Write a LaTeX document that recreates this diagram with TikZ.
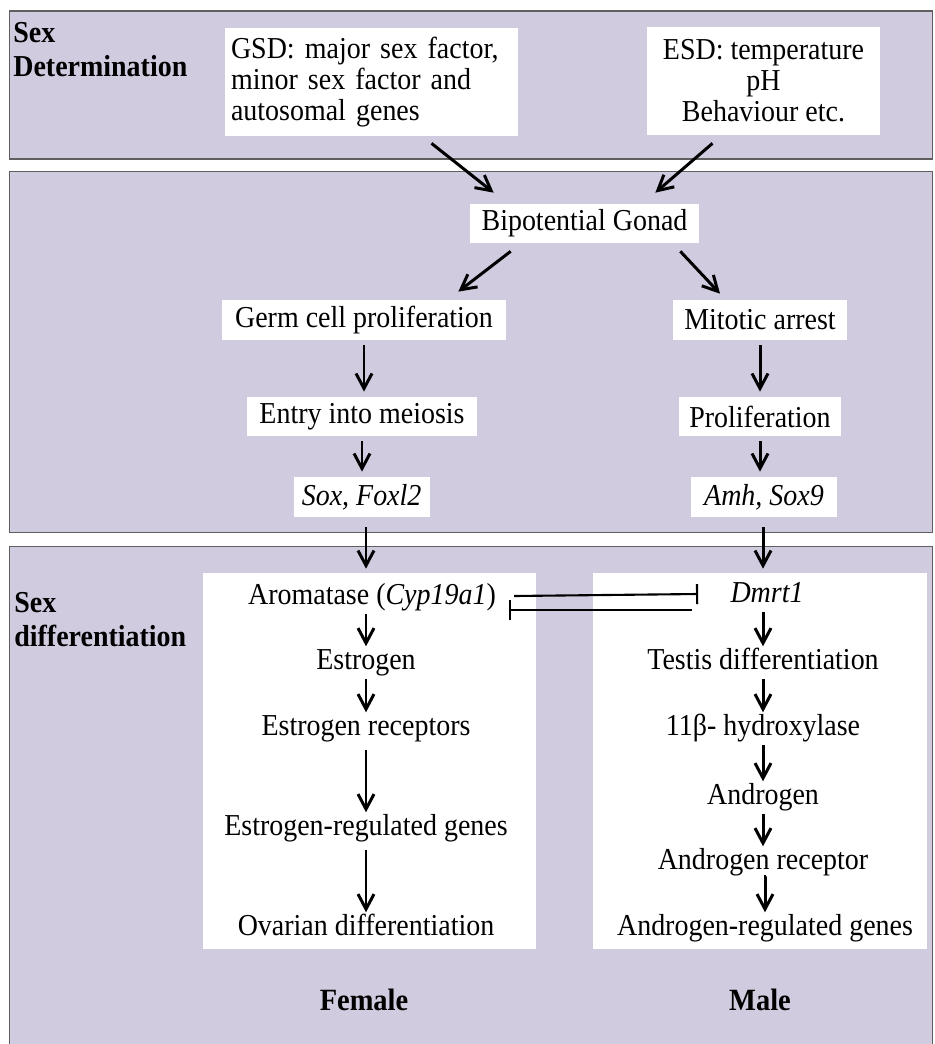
\documentclass[tikz,border=0pt]{standalone}
\usepackage{fontspec}
\setmainfont{Liberation Serif}[FakeStretch=0.92]
\usepackage{tikz}
\usetikzlibrary{arrows.meta, positioning, calc}
\definecolor{lav}{RGB}{209,203,224}
\definecolor{edge}{RGB}{95,95,95}
\frenchspacing

\begin{document}
\begin{tikzpicture}[x=0.02cm, y=-0.02cm,
  font=\fontsize{17.3}{17.6}\selectfont,
  band/.style={rectangle, draw=edge, fill=lav, line width=0.6pt, inner sep=0pt},
  panel/.style={rectangle, fill=white, inner sep=0pt},
  wbox/.style={rectangle, fill=white, inner sep=0pt, align=center},
  txt/.style={inner sep=0pt, text height=12pt, text depth=3.8pt},
  lbl/.style={anchor=west, align=left, inner sep=0pt, font=\bfseries\fontsize{17.3}{19.3}\selectfont},
  sexlbl/.style={txt, font=\bfseries\fontsize{17.6}{17.6}\selectfont},
  arr/.style={-{Straight Barb[length=3mm, width=3.2mm]}, line width=1.7pt},
  varr/.style={arr, shorten <=1mm, shorten >=1mm},
  parr/.style={arr, shorten <=0.5mm, shorten >=0.3mm},
  inh/.style={-{Bar[width=4mm]}, line width=1.2pt},
]
\useasboundingbox (0,0) rectangle (934,1044);

% Bands
\node[band, minimum width=18.48cm, minimum height=2.96cm] (detband) at (471,85) {};
\node[band, minimum width=18.48cm, minimum height=7.24cm] (gonband) at (471,352) {};
\node[band, minimum width=18.48cm, minimum height=10.4cm] (difband) at (471,806) {};
\node[lbl] (detlbl) at (13,50) {Sex\\Determination};
\node[lbl] (diflbl) at (14,620) {Sex\\differentiation};

% Determination
\node[wbox, minimum width=5.86cm, minimum height=2.16cm, text width=5.62cm, align=left] (gsd) at (371.5,82) {GSD: major sex factor,\\minor sex factor and\\autosomal genes};
\node[wbox, minimum width=4.66cm, minimum height=2.16cm] (esd) at (763.5,81) {ESD: temperature\\pH\\Behaviour etc.};

% Gonad
\node[wbox, minimum width=4.58cm, minimum height=0.78cm] (bipot) at (584.5,223.5) {Bipotential Gonad};
\node[wbox, minimum width=5.68cm, minimum height=0.8cm] (germ) at (364,320) {Germ cell proliferation};
\node[wbox, minimum width=3.5cm, minimum height=0.8cm] (mitotic) at (760,320) {Mitotic arrest};
\node[wbox, minimum width=4.59cm, minimum height=0.78cm] (entry) at (362,416.5) {Entry into meiosis};
\node[wbox, minimum width=3.26cm, minimum height=0.78cm] (prolif) at (760,416.5) {Proliferation};
\node[wbox, minimum width=2.72cm, minimum height=0.8cm] (sox) at (361.6,497) {\itshape Sox, Foxl2};
\node[wbox, minimum width=2.92cm, minimum height=0.8cm] (amh) at (764,497) {\itshape Amh, Sox9};

% Differentiation panels
\node[panel, minimum width=6.66cm, minimum height=7.52cm] (lpanel) at (369.5,761) {};
\node[panel, minimum width=6.68cm, minimum height=7.52cm] (rpanel) at (760,761) {};

\node[txt] (aroma) at (372,597) {Aromatase (\textit{Cyp19a1})};
\node[txt] (estr) at (366,662) {Estrogen};
\node[txt] (estrrec) at (366,728) {Estrogen receptors};
\node[txt] (estrgen) at (366,828) {Estrogen-regulated genes};
\node[txt] (ovar) at (366,928) {Ovarian differentiation};

\node[txt] (dmrt) at (767,595) {\itshape Dmrt1};
\node[txt] (testis) at (763,662) {Testis differentiation};
\node[txt] (hydrox) at (763,728) {11β- hydroxylase};
\node[txt] (andr) at (763,797) {Androgen};
\node[txt] (andrrec) at (763,862) {Androgen receptor};
\node[txt] (andrgen) at (765,928) {Androgen-regulated genes};

\node[sexlbl] (female) at (364,1003) {Female};
\node[sexlbl] (male) at (760,1003) {Male};

% Arrows
\draw[arr] ($(gsd.south)+(60,7)$) -- ($(bipot.north west)+(24,-11)$);
\draw[arr] ($(esd.south)+(-51,8)$) -- ($(bipot.north east)+(-44,-11)$);
\draw[arr] ($(bipot.south west)+(41,8)$) -- ($(germ.north east)+(-48,-8)$);
\draw[arr] ($(bipot.south east)+(-19,8)$) -- ($(mitotic.north)+(-40,-6)$);
\draw[varr] (germ.south) -- (germ.south |- entry.north);
\draw[varr] (entry.south) -- (entry.south |- sox.north);
\draw[varr] (mitotic.south) -- (mitotic.south |- prolif.north);
\draw[varr] (prolif.south) -- (prolif.south |- amh.north);
\draw[arr, shorten <=2mm, shorten >=0.8mm] (sox.south -| estr.north) -- (estr.north |- lpanel.north);
\draw[arr, shorten <=2mm, shorten >=0.8mm] (amh.south -| testis.north) -- (testis.north |- rpanel.north);

\draw[parr] (estr.north |- aroma.south) -- (estr.north);
\draw[parr] (estr) -- (estrrec);
\draw[parr, shorten <=1.6mm] (estrrec) -- (estrgen);
\draw[parr, shorten <=1.6mm] (estrgen) -- (ovar);
\draw[parr] (testis.north |- dmrt.south) -- (testis.north);
\draw[parr] (testis) -- (hydrox);
\draw[parr] (hydrox) -- (andr);
\draw[parr] (andr) -- (andrrec);
\draw[parr] (andrrec.south) -- (andrrec.south -| andrgen.north) -- (andrgen.north);

% Mutual repression
\draw[inh] ($(aroma.east)+(18,-1)$) -- ($(dmrt.west)+(-32,-1)$);
\draw[inh] ($(dmrt.west)+(-38,15)$) -- ($(aroma.east)+(13,13)$);
\end{tikzpicture}
\end{document}
